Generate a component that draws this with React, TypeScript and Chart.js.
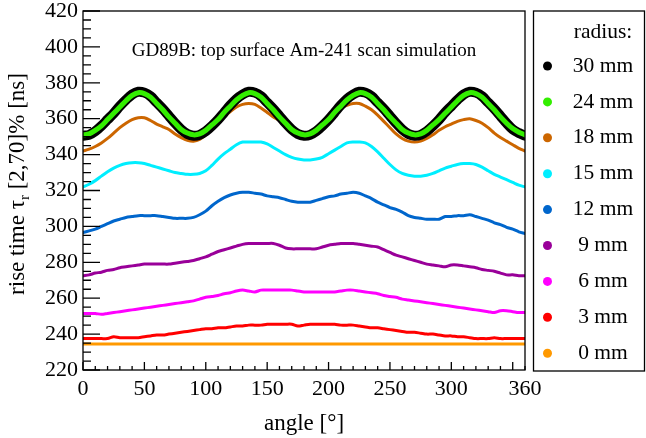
import React, { useEffect, useRef } from "react";
import { Chart, registerables } from "chart.js";

Chart.register(...registerables);

const SERIF = "'Liberation Serif', 'DejaVu Serif', serif";

// scan angle in degrees
const angles = [
  0, 5, 10, 15, 20, 25, 30, 35, 40, 45, 50, 55, 60, 65, 70, 75, 80, 85,
  90, 95, 100, 105, 110, 115, 120, 125, 130, 135, 140, 145, 150, 155, 160, 165, 170, 175,
  180, 185, 190, 195, 200, 205, 210, 215, 220, 225, 230, 235, 240, 245, 250, 255, 260, 265,
  270, 275, 280, 285, 290, 295, 300, 305, 310, 315, 320, 325, 330, 335, 340, 345, 350, 355, 360,
];

// rise time [ns] per radius
const r30 = [
  350.5, 351, 353, 356, 359.5, 363, 367, 370.5, 373.5, 375, 374.5, 372.5, 369, 365.5, 361.5, 357.5, 354, 351.5,
  350.5, 351, 353, 356, 359.5, 363.5, 367.5, 371, 373.5, 375, 374.5, 372.5, 369, 365.5, 361.5, 357.5, 354, 351.5,
  350.5, 351, 353, 356, 359.5, 363.5, 367.5, 371, 373.5, 375, 374.5, 372.5, 369, 365.5, 361.5, 357.5, 354, 351.5,
  350.5, 351, 353, 356, 359.5, 363.5, 367, 370.5, 373.5, 375, 374.5, 372.5, 369, 365.5, 361.5, 357.5, 354, 352, 350.5,
];
const r24 = [
  351, 351.5, 353.5, 356, 359.5, 363, 366.5, 370, 373, 374.5, 374, 372, 368.5, 365, 361, 357.5, 354, 352,
  351, 351.5, 353.5, 356.5, 359.5, 363.5, 367, 370.5, 373, 374.5, 374, 372, 368.5, 365, 361, 357.5, 354, 352,
  351, 351.5, 353.5, 356.5, 359.5, 363.5, 367, 370.5, 373, 374.5, 374, 372, 368.5, 365, 361, 357.5, 354, 352,
  351, 351.5, 353.5, 356.5, 359.5, 363, 366.5, 370, 373, 374.5, 374, 372, 368.5, 365, 361, 357.5, 354.5, 352.5, 351,
];
const r18 = [
  342, 343, 344.5, 346.5, 349, 352, 355, 357.5, 359.5, 360.5, 360.5, 359, 357, 355.5, 354, 351.5, 349.5, 348,
  347.5, 348.5, 351, 354, 357.5, 361, 364, 366.5, 368, 368.5, 368, 366, 363.5, 361, 359, 356.5, 354, 352.5,
  352, 352.5, 354, 357, 360, 363.5, 366, 367.5, 368.5, 368.5, 367, 365, 362, 358.5, 355, 351.5, 349, 347.5,
  347, 347.5, 349, 351, 353.5, 355.5, 357, 358.5, 359.5, 360, 359, 357.5, 355, 352, 349.5, 347.5, 345.5, 343.5, 342,
];
const r15 = [
  322, 323.5, 325.5, 328, 330.5, 332.5, 334, 335, 335.5, 335.5, 335, 334, 333, 332, 331, 330, 329.5, 329,
  329, 329.5, 331, 334, 337.5, 340.5, 343, 345.5, 347, 347, 347, 347, 346, 344, 342, 340, 338.5, 337.5,
  337, 337, 337.5, 338.5, 340.5, 342.5, 344.5, 346.5, 347, 347, 346.5, 344.5, 341.5, 338, 334.5, 331.5, 329.5, 328.5,
  328, 328, 328.5, 329.5, 331, 332.5, 333.5, 334.5, 335, 335, 334.5, 333, 331, 329, 327.5, 326, 324.5, 323, 322,
];
const r12 = [
  296.5, 297.5, 298.5, 300, 301.5, 303, 304, 305, 305.5, 306, 306, 306, 306, 305.5, 305, 304.5, 304.5, 304.5,
  305, 306.5, 308.5, 311.5, 314, 316, 317.5, 318.5, 319, 319, 318.5, 318, 317, 316.5, 316, 315, 314, 313.5,
  313.5, 313.5, 314.5, 315.5, 316.5, 317, 318, 318.5, 319, 318.5, 317, 315.5, 313.5, 312, 310.5, 309.5, 308, 306,
  305, 304.5, 304, 304, 304, 305.5, 305.5, 306, 306, 306.5, 305.5, 304.5, 303.5, 302, 301, 299.5, 298.5, 297, 296,
];
const r9 = [
  272.5, 273, 274, 274.5, 275.5, 276, 277, 277.5, 278, 278.5, 279, 279, 279, 279, 279, 279.5, 280, 280.5,
  281, 282, 283, 284.5, 286, 287, 288, 289, 290, 290.5, 290.5, 290.5, 290.5, 290.5, 289.5, 288, 287.5, 287.5,
  287.5, 287.5, 287.5, 288.5, 289.5, 290, 290.5, 290.5, 290.5, 290, 289.5, 289, 288.5, 287, 285.5, 284, 283, 282,
  281, 280, 279, 278.5, 278, 277.5, 278.5, 278.5, 278, 277.5, 277, 276, 275.5, 275, 274, 273, 273, 272.5, 272.5,
];
const r6 = [
  251.5, 251.5, 251.5, 251, 251.5, 252, 252.5, 253, 253.5, 254, 254.5, 255, 255.5, 256, 256.5, 257, 257.5, 258,
  258.5, 259.5, 260.5, 261, 261.5, 262.5, 263, 264, 264.5, 264, 263.5, 264.5, 264.5, 264.5, 264.5, 264.5, 264.5, 264,
  263.5, 263.5, 263.5, 263.5, 263.5, 263.5, 264, 264.5, 264.5, 264, 263.5, 263, 262.5, 261.5, 261, 260.5, 259.5, 259,
  258.5, 258, 257.5, 257, 256.5, 256, 255.5, 255, 254.5, 254, 253.5, 253, 252.5, 252, 253, 253, 252.5, 252, 252,
];
const r3 = [
  237.5, 237.5, 237.5, 237.5, 237.5, 238.5, 238, 238, 238, 238, 238.5, 239, 239.5, 239.5, 240, 240.5, 241, 241.5,
  242, 242.5, 243, 243, 243.5, 243.5, 244, 244.5, 244.5, 245, 245, 245, 245.5, 245.5, 245.5, 245.5, 245.5, 244.5,
  245, 245.5, 245.5, 245.5, 245.5, 245.5, 245, 245, 245, 244.5, 244, 243.5, 243.5, 243, 242.5, 242, 241.5, 241,
  241, 240.5, 240, 240, 239.5, 239, 239, 238.5, 238.5, 238, 237.5, 237.5, 237.5, 238, 237.5, 237.5, 237.5, 237.5, 237.5,
];
const r0 = [
  234.5, 234.5, 234.5, 234.5, 234.5, 234.5, 234.5, 234.5, 234.5, 234.5, 234.5, 234.5, 234.5, 234.5, 234.5, 234.5, 234.5, 234.5,
  234.5, 234.5, 234.5, 234.5, 234.5, 234.5, 234.5, 234.5, 234.5, 234.5, 234.5, 234.5, 234.5, 234.5, 234.5, 234.5, 234.5, 234.5,
  234.5, 234.5, 234.5, 234.5, 234.5, 234.5, 234.5, 234.5, 234.5, 234.5, 234.5, 234.5, 234.5, 234.5, 234.5, 234.5, 234.5, 234.5,
  234.5, 234.5, 234.5, 234.5, 234.5, 234.5, 234.5, 234.5, 234.5, 234.5, 234.5, 234.5, 234.5, 234.5, 234.5, 234.5, 234.5, 234.5, 234.5,
];

const radiusLabels = ["30 mm", "24 mm", "18 mm", "15 mm", "12 mm", "9 mm", "6 mm", "3 mm", "0 mm"];
const series = [r30, r24, r18, r15, r12, r9, r6, r3, r0];
const colors = ["#000000", "#33ee00", "#cc6600", "#00eeff", "#0066cc", "#990099", "#ff00ff", "#ff0000", "#ff9900"];
const widths = [10, 5, 3, 3, 3, 3, 3, 3, 3];
const drawOrder = [1, 0, 2, 3, 4, 5, 6, 7, 8];

const plotTitle = "GD89B: top surface Am-241 scan simulation";

// ROOT-like frame, inward ticks, titles and boxed legend
const rootStyle = {
  id: "rootStyle",
  afterDraw(chart: any) {
    const { ctx, chartArea: a, scales } = chart;
    const xs = scales.x;
    const ys = scales.y;
    ctx.save();
    ctx.strokeStyle = "#000";
    ctx.lineWidth = 1.3;
    ctx.strokeRect(a.left, a.top, a.right - a.left, a.bottom - a.top);

    ctx.beginPath();
    for (let v = ys.min; v <= ys.max; v += 5) {
      const py = ys.getPixelForValue(v);
      const len = v % 20 === 0 ? 17 : 8;
      ctx.moveTo(a.left, py);
      ctx.lineTo(a.left + len, py);
    }
    for (let v = xs.min; v <= xs.max; v += 10) {
      const px = xs.getPixelForValue(v);
      const len = v % 50 === 0 ? 8 : 4;
      ctx.moveTo(px, a.bottom);
      ctx.lineTo(px, a.bottom - len);
    }
    ctx.stroke();

    ctx.fillStyle = "#000";
    ctx.textAlign = "center";
    ctx.textBaseline = "middle";
    ctx.font = `19px ${SERIF}`;
    ctx.fillText(plotTitle, (a.left + a.right) / 2, 51);

    ctx.font = `23px ${SERIF}`;
    ctx.fillText("angle [°]", (a.left + a.right) / 2, 424);

    // y title with subscript r
    ctx.save();
    ctx.translate(24, 184);
    ctx.rotate(-Math.PI / 2);
    ctx.textAlign = "left";
    ctx.textBaseline = "alphabetic";
    const big = `23px ${SERIF}`;
    const small = `15px ${SERIF}`;
    const p1 = "rise time τ";
    const p2 = "r";
    const p3 = " [2,70]% [ns]";
    ctx.font = big;
    const w1 = ctx.measureText(p1).width;
    const w3 = ctx.measureText(p3).width;
    ctx.font = small;
    const w2 = ctx.measureText(p2).width;
    let sx = -(w1 + w2 + w3) / 2;
    ctx.font = big;
    ctx.fillText(p1, sx, 0);
    sx += w1;
    ctx.font = small;
    ctx.fillText(p2, sx, 5);
    sx += w2;
    ctx.font = big;
    ctx.fillText(p3, sx, 0);
    ctx.restore();

    // legend
    ctx.lineWidth = 1.3;
    ctx.strokeRect(533.5, 11, 111, 360);
    ctx.font = `21.5px ${SERIF}`;
    ctx.textAlign = "center";
    ctx.textBaseline = "middle";
    ctx.fillText("radius:", 603, 32);
    chart.data.datasets.forEach((ds: any, i: number) => {
      const cy = 66 + i * 35.9;
      ctx.fillStyle = ds.borderColor;
      ctx.beginPath();
      ctx.arc(547.5, cy, 4.5, 0, Math.PI * 2);
      ctx.fill();
      ctx.fillStyle = "#000";
      ctx.fillText(ds.label, 603, cy);
    });
    ctx.restore();
  },
};

const App = () => {
  const canvasRef = useRef<HTMLCanvasElement>(null);

  useEffect(() => {
    if (!canvasRef.current) return;
    const ctx = canvasRef.current.getContext("2d");
    if (!ctx) return;

    const chart = new Chart(ctx, {
      type: "line",
      data: {
        datasets: series.map((vals, i) => ({
          label: radiusLabels[i],
          data: angles.map((a, j) => ({ x: a, y: vals[j] })),
          borderColor: colors[i],
          backgroundColor: colors[i],
          borderWidth: widths[i],
          borderJoinStyle: "round" as const,
          borderCapStyle: "round" as const,
          pointRadius: 0,
          tension: 0.3,
          order: drawOrder[i],
        })),
      },
      options: {
        animation: false,
        responsive: true,
        maintainAspectRatio: false,
        layout: { padding: { left: 0, right: 121, top: 11, bottom: 0 } },
        plugins: {
          legend: { display: false },
          tooltip: { enabled: false },
        },
        scales: {
          x: {
            type: "linear",
            min: 0,
            max: 360,
            grid: { display: false, drawTicks: false },
            border: { display: false },
            ticks: {
              stepSize: 50,
              color: "#000",
              padding: 8,
              maxRotation: 0,
              font: { family: SERIF, size: 22, lineHeight: 1 },
            },
            afterFit: (s: any) => {
              s.height = 68;
            },
          },
          y: {
            type: "linear",
            min: 220,
            max: 420,
            grid: { display: false, drawTicks: false },
            border: { display: false },
            ticks: {
              stepSize: 20,
              color: "#000",
              padding: 5,
              font: { family: SERIF, size: 22, lineHeight: 0.4 },
            },
            afterFit: (s: any) => {
              s.width = 83;
              s.paddingTop = 0;
              s.paddingBottom = 0;
            },
          },
        },
      },
      plugins: [rootStyle],
    });

    return () => {
      chart.destroy();
    };
  }, []);

  return (
    <div
      style={{
        position: "fixed",
        left: 0,
        top: 0,
        width: 646,
        height: 438,
        background: "#fff",
      }}
    >
      <canvas ref={canvasRef} />
    </div>
  );
};

export default App;
